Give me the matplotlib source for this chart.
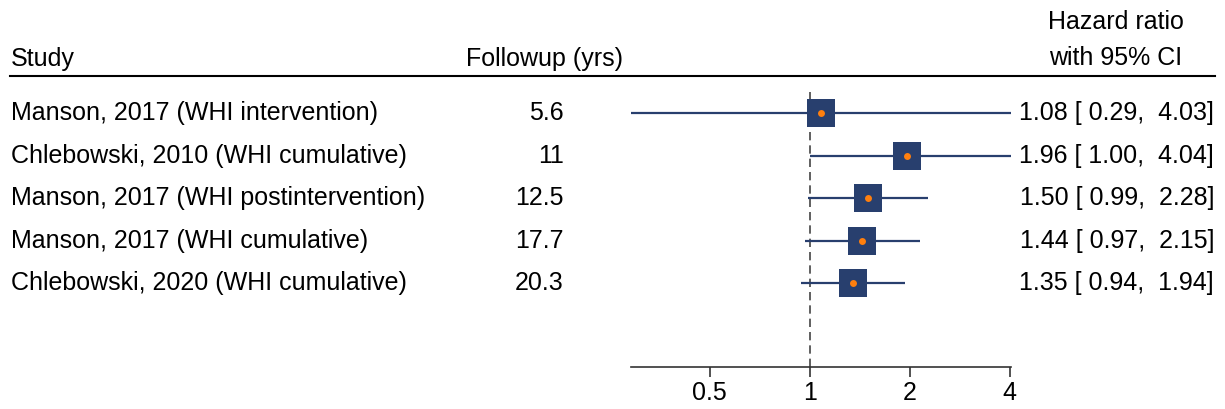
import matplotlib
matplotlib.use("Agg")
import matplotlib.pyplot as plt
import matplotlib.transforms as mtransforms
from matplotlib.lines import Line2D

plt.rcParams["font.family"] = ["Liberation Sans", "DejaVu Sans"]

# --------------------------------------------------
# Study data
# --------------------------------------------------

studies = [
    "Manson, 2017 (WHI intervention)",
    "Chlebowski, 2010 (WHI cumulative)",
    "Manson, 2017 (WHI postintervention)",
    "Manson, 2017 (WHI cumulative)",
    "Chlebowski, 2020 (WHI cumulative)",
]
followup = ["5.6", "11", "12.5", "17.7", "20.3"]
hr = [1.08, 1.96, 1.50, 1.44, 1.35]
ci_lo = [0.29, 1.00, 0.99, 0.97, 0.94]
ci_hi = [4.03, 4.04, 2.28, 2.15, 1.94]
xticks = [0.5, 1, 2, 4]

NAVY = "#283f6e"
ORANGE = "#ff7f0e"
FS = 18

W, H = 1225, 409
fig = plt.figure(figsize=(W / 100, H / 100), dpi=100)

def px(x):
    return x / W

def py(y):
    return 1 - y / H

# forest panel: x from 631 to 1011 px, y from 92 to 367 px
ax = fig.add_axes([px(631), py(367), px(1011 - 631), (367 - 92) / H])
ax.set_xscale("log")
ax.set_xlim(0.29, 4.04)
ax.set_ylim(5.976, -0.494)

rows = list(range(len(studies)))

for i in rows:
    ax.plot([ci_lo[i], ci_hi[i]], [i, i], color=NAVY, lw=1.6, solid_capstyle="butt", zorder=2)
ax.scatter(hr, rows, marker="s", s=20.5 ** 2, color=NAVY, zorder=3, linewidths=0)
ax.scatter(hr, rows, marker="o", s=5 ** 2, color=ORANGE, zorder=4, linewidths=0)

ax.axvline(1, color="#444444", lw=1.2, ls=(0, (5, 3)), zorder=1)

for side in ["top", "left", "right"]:
    ax.spines[side].set_visible(False)
ax.spines["bottom"].set_color("#333333")
ax.spines["bottom"].set_linewidth(1.2)
ax.set_yticks([])
ax.set_xticks(xticks)
ax.set_xticklabels([f"{t:g}" for t in xticks], fontsize=FS)
ax.xaxis.set_minor_locator(matplotlib.ticker.NullLocator())
ax.tick_params(axis="x", length=7, width=1.2, color="#333333", pad=3)
ax.patch.set_alpha(0)

# text columns aligned to the rows
trans = mtransforms.blended_transform_factory(fig.transFigure, ax.transData)
for i in rows:
    fig.text(px(11), i, studies[i], transform=trans, fontsize=FS, va="center", ha="left")
    fig.text(px(564), i, followup[i], transform=trans, fontsize=FS, va="center", ha="right")
    est = f"{hr[i]:.2f} [{ci_lo[i]:5.2f}, {ci_hi[i]:5.2f}]"
    fig.text(px(1214), i, est, transform=trans, fontsize=FS, va="center", ha="right")

# header
fig.text(px(11), py(59), "Study", fontsize=FS, va="center", ha="left")
fig.text(px(623), py(59), "Followup (yrs)", fontsize=FS, va="center", ha="right")
fig.text(px(1116), py(22), "Hazard ratio", fontsize=FS, va="center", ha="center")
fig.text(px(1116), py(58), "with 95% CI", fontsize=FS, va="center", ha="center")
fig.add_artist(Line2D([px(10), px(1215)], [py(76), py(76)], color="black", lw=1.5))

fig.savefig("out.png", dpi=100)
